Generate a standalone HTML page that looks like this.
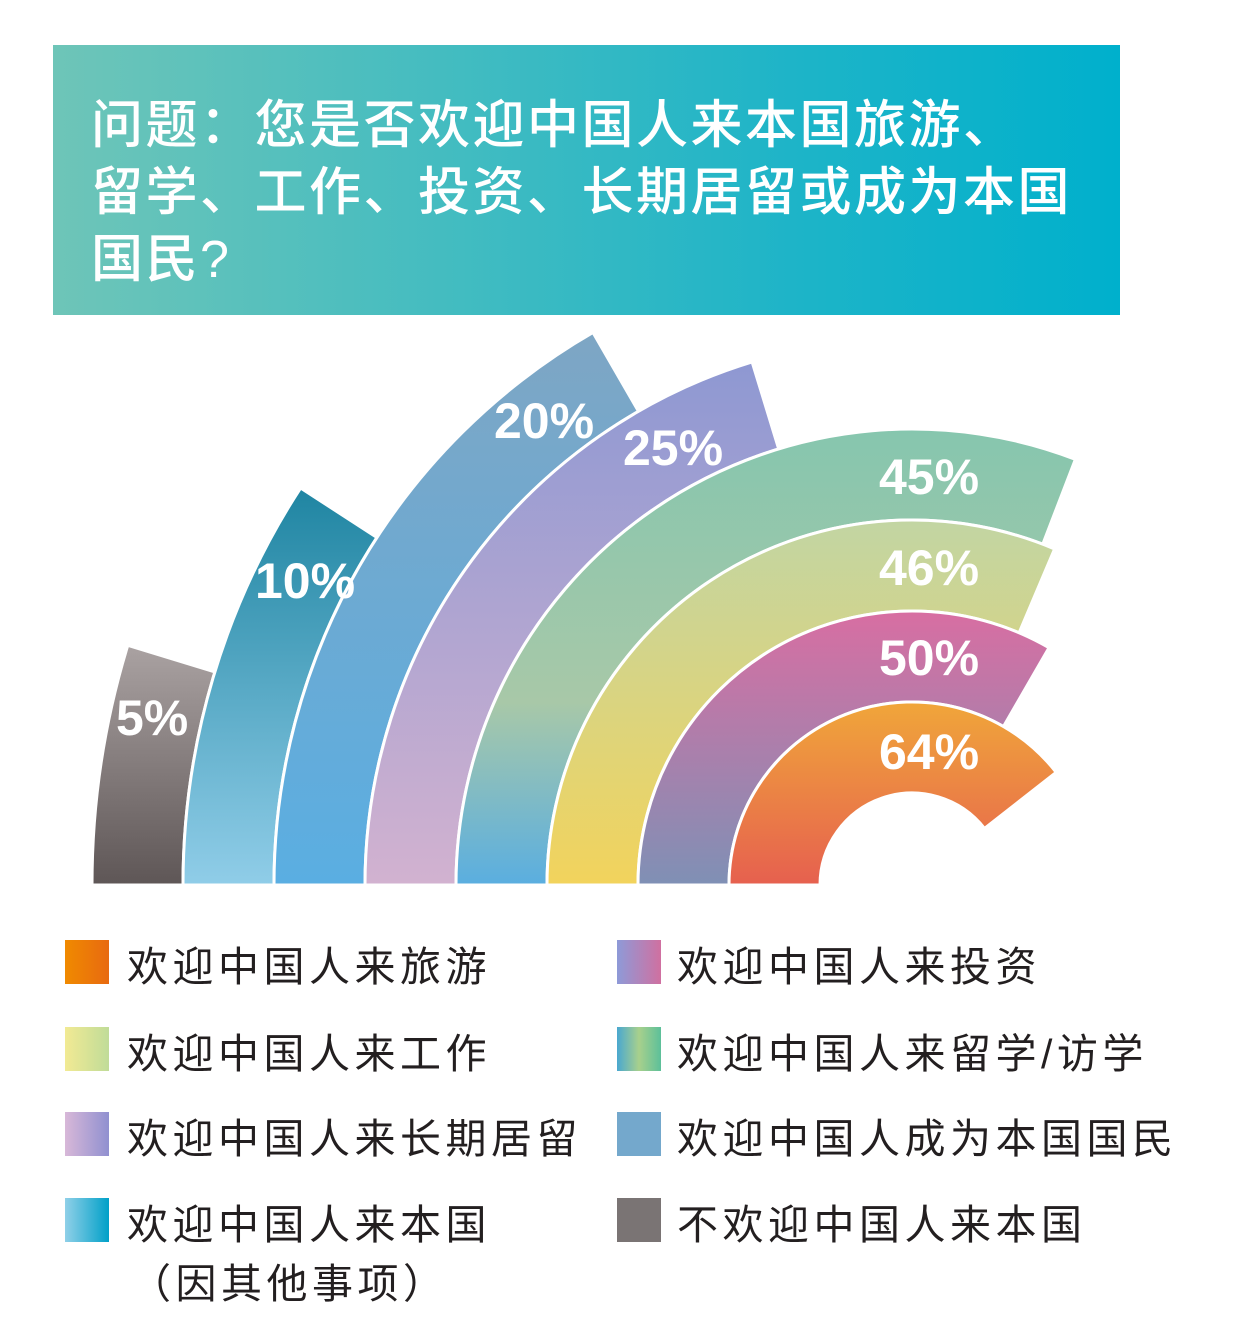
<!DOCTYPE html>
<html><head><meta charset="utf-8"><style>
body{margin:0;width:1260px;height:1343px;background:#fff;overflow:hidden;font-family:"Liberation Sans","Noto Sans CJK SC",sans-serif;}
#hdr{position:absolute;left:53px;top:45px;width:1067px;height:270px;background:linear-gradient(90deg,#6ec5b8,#1db4c8 70%,#00b0cc);}
#hdr div{position:absolute;left:38px;color:#fff;font-size:52px;letter-spacing:2.5px;white-space:nowrap;font-weight:500;}
.lg{position:absolute;font-size:41px;color:#231f20;white-space:nowrap;letter-spacing:4.5px;}
.sq{position:absolute;width:44px;height:44px;}
</style></head><body>
<div id="hdr"><div style="top:38px">问题：您是否欢迎中国人来本国旅游、</div><div style="top:105px">留学、工作、投资、长期居留或成为本国</div><div style="top:172px">国民?</div></div>
<svg id="s" width="1260" height="1343" style="position:absolute;left:0;top:0">
<defs>
<linearGradient id="g0" x1="0" y1="0" x2="0" y2="1"><stop offset="0" stop-color="#f0a63a"/><stop offset="1" stop-color="#e6604f"/></linearGradient>
<linearGradient id="g1" x1="0" y1="0" x2="0" y2="1"><stop offset="0" stop-color="#d86ea2"/><stop offset="1" stop-color="#7f90b5"/></linearGradient>
<linearGradient id="g2" x1="0" y1="0" x2="0" y2="1"><stop offset="0" stop-color="#c2d5a3"/><stop offset="1" stop-color="#f2d35c"/></linearGradient>
<linearGradient id="g3" x1="0" y1="0" x2="0" y2="1"><stop offset="0" stop-color="#86c6ae"/><stop offset="0.6" stop-color="#a8c8a8"/><stop offset="1" stop-color="#5aaee0"/></linearGradient>
<linearGradient id="g4" x1="0" y1="0" x2="0" y2="1"><stop offset="0" stop-color="#8e98d2"/><stop offset="1" stop-color="#d2b2d0"/></linearGradient>
<linearGradient id="g5" x1="0" y1="0" x2="0" y2="1"><stop offset="0" stop-color="#7ea6c4"/><stop offset="1" stop-color="#5aaee2"/></linearGradient>
<linearGradient id="g6" x1="0" y1="0" x2="0" y2="1"><stop offset="0" stop-color="#1f85a2"/><stop offset="1" stop-color="#90cde8"/></linearGradient>
<linearGradient id="g7" x1="0" y1="0" x2="0" y2="1"><stop offset="0" stop-color="#aaa2a2"/><stop offset="1" stop-color="#5e5656"/></linearGradient>
</defs>
<g id="arcs"></g>
<g fill="#fff" font-weight="bold" font-size="50" font-family="Liberation Sans,sans-serif">
<text x="494" y="438">20%</text><text x="623" y="465">25%</text><text x="879" y="494">45%</text><text x="879" y="585">46%</text><text x="879" y="675">50%</text><text x="879" y="769">64%</text><text x="255" y="598">10%</text><text x="116" y="735">5%</text>
</g>
</svg>
<div class="sq" style="left:65px;top:940px;background:linear-gradient(90deg,#f08a00,#e86a10)"></div>
<div class="sq" style="left:65px;top:1027px;background:linear-gradient(90deg,#f2ea94,#c0dc98)"></div>
<div class="sq" style="left:65px;top:1112px;background:linear-gradient(90deg,#d8b8d8,#9090d0)"></div>
<div class="sq" style="left:65px;top:1198px;background:linear-gradient(90deg,#90d0e8,#00a0c8)"></div>
<div class="sq" style="left:617px;top:940px;background:linear-gradient(90deg,#8e9ad8,#d070a0)"></div>
<div class="sq" style="left:617px;top:1027px;background:linear-gradient(90deg,#4aa8d0,#a8d08c,#5cc09a)"></div>
<div class="sq" style="left:617px;top:1112px;background:#74a8cc"></div>
<div class="sq" style="left:617px;top:1198px;background:#7a7474"></div>
<div class="lg" style="left:127px;top:933px">欢迎中国人来旅游</div>
<div class="lg" style="left:127px;top:1020px">欢迎中国人来工作</div>
<div class="lg" style="left:127px;top:1105px">欢迎中国人来长期居留</div>
<div class="lg" style="left:127px;top:1191px">欢迎中国人来本国</div>
<div class="lg" style="left:130px;top:1250px">（因其他事项）</div>
<div class="lg" style="left:677px;top:933px">欢迎中国人来投资</div>
<div class="lg" style="left:677px;top:1020px">欢迎中国人来留学/访学</div>
<div class="lg" style="left:677px;top:1105px">欢迎中国人成为本国国民</div>
<div class="lg" style="left:677px;top:1191px">不欢迎中国人来本国</div>
<script>
var cx=912,cy=885,ends=[38,60,67,69,107,120,147,163],g=document.getElementById('arcs'),h='';
function P(r,a){a=a*Math.PI/180;return (cx+r*Math.cos(a)).toFixed(1)+' '+(cy-r*Math.sin(a)).toFixed(1);}
for(var i=7;i>=0;i--){var r0=92+91*i,r1=r0+91,e=ends[i],la=(180-e)>180?1:0;
h+='<path d="M'+P(r1,180)+' A'+r1+' '+r1+' 0 '+la+' 1 '+P(r1,e)+' L'+P(r0,e)+' A'+r0+' '+r0+' 0 '+la+' 0 '+P(r0,180)+' Z" fill="url(#g'+i+')" stroke="#fff" stroke-width="3"/>';}
g.innerHTML=h;
</script>
</body></html>
